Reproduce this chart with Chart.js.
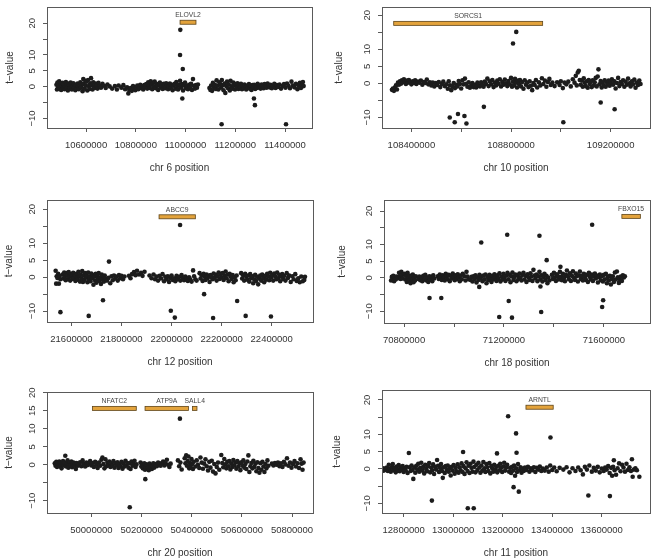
<!DOCTYPE html>
<html>
<head>
<meta charset="utf-8">
<script src="https://cdn.jsdelivr.net/npm/chart.js@4.4.0/dist/chart.umd.min.js"></script>
<style>
body { margin: 0; background: #fff; }
#wrap { position: relative; width: 654px; height: 560px; }
#wrap canvas { position: absolute; }
</style>
</head>
<body>
<div id="wrap">
<canvas id="p1"></canvas>
<canvas id="p2"></canvas>
<canvas id="p3"></canvas>
<canvas id="p4"></canvas>
<canvas id="p5"></canvas>
<canvas id="p6"></canvas>
</div>
<script>
var chr6Points = [[10481,0.6],[10483,-0.9],[10485,1.3],[10488,-0.2],[10490,0.4],[10492,1.7],[10495,-0.7],[10497,0.9],[10500,-1.0],[10503,0.3],[10506,1.2],[10508,-0.3],[10511,0.8],[10514,-0.8],[10516,0.1],[10519,1.5],[10522,-0.5],[10524,0.6],[10527,-1.2],[10530,1.0],[10533,0.2],[10535,-0.4],[10538,1.3],[10541,0.5],[10543,-0.9],[10546,0.2],[10549,1.1],[10552,-0.3],[10554,0.7],[10557,-1.1],[10560,0.4],[10563,-0.6],[10566,1.0],[10568,0.0],[10571,-0.8],[10574,0.6],[10577,1.4],[10580,-0.2],[10583,0.9],[10586,-1.4],[10589,2.4],[10591,0.8],[10594,-0.6],[10597,1.9],[10599,0.3],[10602,1.6],[10605,-1.2],[10608,2.1],[10611,0.2],[10614,-0.7],[10617,1.1],[10620,2.7],[10623,0.5],[10626,-0.9],[10629,1.4],[10632,0.1],[10635,-0.4],[10638,1.0],[10642,0.4],[10646,-0.6],[10650,1.2],[10655,0.2],[10660,-0.3],[10666,0.9],[10672,0.3],[10679,-0.4],[10686,0.7],[10695,0.1],[10705,-0.6],[10716,0.2],[10724,-0.9],[10731,0.4],[10742,-0.3],[10750,0.5],[10757,-0.8],[10765,-0.2],[10770,-2.1],[10774,-1.0],[10779,-0.4],[10784,-1.3],[10789,0.2],[10793,-0.6],[10798,-1.1],[10802,-0.2],[10806,0.4],[10810,-0.8],[10814,-0.3],[10818,0.6],[10822,-0.5],[10826,0.1],[10830,-0.9],[10834,0.5],[10838,-0.2],[10842,0.8],[10846,-0.6],[10850,1.4],[10853,0.2],[10856,-0.4],[10860,1.7],[10863,0.6],[10866,-0.8],[10870,1.2],[10873,0.0],[10876,1.6],[10880,-0.5],[10883,0.9],[10887,0.3],[10890,-1.0],[10894,0.7],[10897,1.3],[10901,-0.3],[10904,0.4],[10908,-0.7],[10912,0.9],[10915,0.1],[10919,-0.5],[10922,1.1],[10926,0.4],[10930,-0.8],[10933,0.2],[10937,1.0],[10941,-0.4],[10945,0.6],[10948,-1.1],[10952,0.3],[10956,0.9],[10960,-0.6],[10963,1.5],[10967,0.2],[10970,-0.9],[10974,0.6],[10978,1.9],[10982,-0.3],[10986,0.8],[10990,-1.2],[10994,0.4],[10998,1.3],[11002,-0.5],[11006,0.2],[11010,-0.8],[11014,0.6],[11018,-0.2],[11022,0.9],[11026,-1.0],[11030,2.4],[11034,0.3],[11038,-0.6],[11042,0.5],[11046,-0.3],[11050,0.7],
  [11096,-0.4],[11100,-1.0],[11103,0.4],[11107,-1.3],[11110,1.2],[11114,-0.2],[11118,0.6],[11122,-0.7],[11125,2.0],[11129,0.3],[11132,-0.9],[11136,1.4],[11139,0.8],[11143,-0.3],[11146,2.1],[11150,0.5],[11153,-1.1],[11157,1.0],[11160,-2.0],[11164,0.2],[11167,1.6],[11171,-0.5],[11174,0.7],[11178,-1.2],[11181,1.9],[11185,0.1],[11188,-0.6],[11192,1.3],[11195,0.4],[11199,-0.9],[11202,0.8],[11206,-0.3],[11209,1.1],[11213,-0.7],[11216,0.5],[11220,-0.2],[11223,0.9],[11227,-0.8],[11230,0.3],[11234,-0.5],[11237,0.7],[11241,-0.1],[11244,-0.9],[11248,0.4],[11251,-0.4],[11255,0.8],[11258,-0.6],[11262,0.2],[11265,-1.0],[11269,0.5],[11272,-0.3],[11276,0.6],[11280,-0.7],[11283,0.1],[11287,-0.4],[11290,0.9],[11294,-0.2],[11298,0.4],[11302,-0.6],[11306,0.7],[11310,0.0],[11314,-0.5],[11318,0.8],[11322,0.2],[11326,-0.3],[11330,1.0],[11334,0.4],[11338,-0.2],[11342,0.6],[11347,-0.5],[11352,0.3],[11357,0.9],[11362,-0.4],[11367,0.5],[11372,-0.1],[11378,0.7],[11384,-0.6],[11390,0.2],[11396,0.8],[11402,-0.3],[11408,1.0],[11414,0.3],[11420,-0.5],[11426,1.6],[11432,0.4],[11438,-0.2],[11444,0.9],[11450,-0.8],[11455,0.3],[11460,1.2],[11464,-0.4],[11468,0.6],[11472,1.5],[11475,0.2],
  [10979,17.9],[10978,10.0],[10989,5.6],[10987,-3.7],[11145,-11.8],[11275,-3.7],[11279,-5.8],[11404,-11.8]];

var chr10Points = [[108322,-1.9],[108326,-1.5],[108330,-2.2],[108334,-1.2],[108338,-0.6],[108342,-1.8],[108346,0.2],[108350,-0.4],[108354,0.6],[108358,-0.1],[108362,0.9],[108366,0.3],[108370,1.2],[108374,0.5],[108378,-0.2],[108382,0.8],[108386,0.2],[108390,1.0],[108395,0.4],[108400,-0.3],[108405,0.6],[108410,0.1],[108415,0.9],[108420,-0.2],[108426,0.5],[108432,0.2],[108438,0.8],[108444,-0.4],[108450,0.4],[108456,0.1],[108462,1.1],[108468,-0.3],[108474,0.3],[108480,-0.6],[108486,0.2],[108492,-0.9],[108498,0.1],[108504,-0.5],[108510,0.4],[108516,-1.1],[108522,-0.2],[108528,0.5],[108534,-0.8],[108540,-0.3],[108546,-1.6],[108550,0.6],[108555,-0.6],[108560,-2.0],[108565,-0.9],[108570,0.1],[108575,-1.4],[108580,-0.4],[108585,-0.9],[108590,0.7],[108595,-0.2],[108600,-1.5],[108605,0.9],[108610,-0.3],[108615,1.4],[108620,-0.1],[108625,-1.0],[108630,0.3],[108635,-1.3],[108640,-0.6],[108645,0.1],[108650,-1.1],[108655,-0.4],[108660,-1.2],[108665,0.2],[108670,-0.6],[108675,-0.9],[108680,0.3],[108685,-0.5],[108690,-1.0],[108695,0.5],[108700,-0.2],[108705,1.4],[108710,-0.8],[108715,0.6],[108720,-0.3],[108725,1.0],[108730,-1.1],[108735,0.2],[108740,-0.6],[108745,0.8],[108750,-0.1],[108755,1.2],[108760,-0.9],[108765,0.4],[108770,-0.4],[108775,1.1],[108780,0.0],[108785,-0.8],[108790,0.7],[108795,-0.3],[108800,1.6],[108804,-1.0],[108808,0.5],[108812,-0.6],[108816,1.3],[108820,0.2],[108824,-1.2],[108828,0.8],[108832,-0.2],[108836,1.0],[108840,-0.9],[108845,0.4],[108850,-1.6],[108855,0.9],[108860,-0.4],[108865,0.2],[108870,-1.1],[108875,0.6],[108880,-0.7],[108885,-2.0],[108890,0.1],[108895,-0.5],[108900,1.0],[108905,-1.2],[108912,0.3],[108918,-0.6],[108924,1.5],[108930,-0.2],[108936,0.8],[108942,-1.0],[108948,0.4],[108954,1.3],[108960,-0.5],[108966,0.2],[108975,-0.8],[108985,0.3],[108995,-0.5],[109000,0.6],[109008,-1.4],[109015,0.2],[109022,-0.3],[109030,0.5],[109040,-0.9],[109048,1.2],[109055,0.2],[109060,2.2],[109064,-0.6],[109068,3.2],[109072,3.7],[109076,1.0],[109080,-0.4],[109084,0.8],[109088,-1.0],[109092,1.5],[109096,0.2],[109100,-0.8],[109104,0.6],[109108,-1.3],[109112,1.0],[109116,-0.2],[109120,0.5],[109124,-1.1],[109128,0.9],[109132,-0.6],[109136,0.3],[109140,1.6],[109144,-0.9],[109148,2.0],[109151,4.1],[109155,-0.3],[109160,0.7],[109164,-1.2],[109168,0.2],[109172,-0.6],[109176,0.9],[109180,-1.0],[109184,0.4],[109188,-0.3],[109192,0.8],[109196,-0.7],[109200,0.3],[109205,1.2],[109210,-0.4],[109215,0.6],[109220,-1.5],[109225,0.1],[109230,1.6],[109235,-0.8],[109240,0.4],[109245,-0.2],[109250,0.9],[109255,-1.0],[109260,0.5],[109265,-0.4],[109270,1.4],[109275,0.0],[109280,-0.9],[109285,0.6],[109290,-0.3],[109295,1.1],[109300,-1.3],[109305,0.2],[109310,-0.5],[109315,0.8],[109320,-0.2],
  [108821,15.1],[108808,11.7],[108554,-10.0],[108574,-11.4],[108587,-9.0],[108613,-9.6],[108621,-11.8],[108691,-6.9],[109010,-11.4],[109160,-5.6],[109216,-7.6]];

var chr12Points = [[21537,1.9],[21539,-1.9],[21541,0.3],[21544,-0.2],[21547,1.0],[21550,-1.9],[21553,0.4],[21556,-0.6],[21565,0.8],[21568,-0.4],[21571,1.4],[21574,0.2],[21577,-0.9],[21580,1.2],[21583,0.5],[21586,-0.6],[21589,1.5],[21592,0.1],[21595,-1.0],[21598,0.9],[21601,0.3],[21604,-0.5],[21607,1.3],[21610,-0.2],[21613,0.7],[21616,-1.1],[21619,1.0],[21622,0.0],[21625,-0.7],[21628,1.6],[21631,0.4],[21634,-1.3],[21637,0.8],[21640,-0.3],[21643,1.8],[21646,-1.4],[21649,0.5],[21652,-0.8],[21655,1.2],[21658,-0.1],[21661,0.6],[21664,-1.5],[21667,1.4],[21670,-0.6],[21673,0.2],[21676,-1.2],[21679,1.1],[21682,-0.3],[21685,0.7],[21688,-2.2],[21691,0.3],[21694,-0.9],[21697,1.0],[21700,-1.6],[21703,0.4],[21706,-0.5],[21709,1.2],[21712,-1.1],[21715,0.0],[21718,-2.0],[21721,0.8],[21724,-0.7],[21727,0.2],[21730,-1.3],[21733,0.5],[21736,-0.4],
  [21742,-1.0],[21748,-0.2],[21755,-1.8],[21760,0.3],[21765,-0.9],[21770,0.5],[21775,-0.4],[21780,0.2],[21785,-1.0],[21790,0.6],[21795,-0.3],[21800,0.4],[21806,-0.6],[21812,0.2],[21830,0.4],[21836,-0.3],[21842,0.9],[21850,1.5],[21856,0.6],[21862,1.9],[21870,0.8],[21878,1.3],[21884,0.4],[21892,1.6],
  [21912,0.5],[21920,-0.3],[21928,0.8],[21934,-0.6],[21940,0.2],[21946,-1.0],[21952,0.4],[21958,-0.4],[21964,0.9],[21970,-1.2],[21975,0.1],[21980,-0.6],[21985,0.3],[21990,-1.4],[21995,-0.2],[22000,0.5],[22005,-0.8],[22010,-0.3],[22015,-1.2],[22020,0.4],[22025,-0.6],[22030,0.1],[22035,-1.0],[22040,0.6],[22045,-0.4],[22050,-0.9],[22055,0.2],[22060,-0.5],[22065,-1.1],[22070,0.0],[22075,-0.7],[22080,-1.3],[22086,2.0],[22090,0.3],[22095,-0.6],[22100,-1.0],
  [22112,1.2],[22116,-0.4],[22120,0.5],[22124,-1.1],[22128,1.0],[22132,0.1],[22136,-0.8],[22140,0.8],[22144,-0.3],[22148,0.4],[22152,-1.4],[22156,0.6],[22160,0.0],[22164,-0.6],[22168,1.1],[22172,-0.2],[22176,0.7],[22180,-1.0],[22184,0.3],[22188,1.4],[22192,-0.5],[22196,0.9],[22200,-0.1],[22204,1.2],[22208,-0.8],[22212,0.4],[22216,1.7],[22220,-0.3],[22224,0.8],[22228,-1.2],[22232,1.0],[22236,0.2],[22240,-0.5],[22244,0.6],[22248,-1.5],[22252,0.0],[22256,-0.9],[22260,0.5],
  [22278,1.2],[22282,-0.4],[22286,0.6],[22290,-1.0],[22294,1.0],[22298,0.2],[22302,-0.7],[22306,0.5],[22310,-1.3],[22314,0.9],[22318,-0.3],[22322,0.3],[22326,-1.8],[22330,-0.6],[22334,0.7],[22338,-1.1],[22342,0.1],[22346,-2.1],[22350,-0.4],[22354,0.5],[22358,-1.0],[22362,0.8],[22366,-0.2],[22370,-1.5],[22374,0.4],[22378,-0.7],[22382,1.0],[22386,0.2],[22390,-0.9],[22394,1.3],[22398,-0.1],[22402,0.6],[22406,-1.0],[22410,1.1],[22414,0.3],[22418,-0.6],[22422,1.4],[22426,-0.3],[22430,0.7],[22434,-1.2],[22438,0.2],[22442,0.9],[22446,-0.5],[22450,0.4],[22455,-1.0],[22460,1.2],[22465,-0.2],[22470,0.5],[22476,-1.4],[22482,0.3],[22488,-0.6],[22494,0.9],[22500,-1.1],[22506,-0.3],[22512,-1.5],[22518,0.2],[22524,-1.2],[22530,-0.8],[22533,0.1],
  [21556,-10.3],[21669,-11.4],[21726,-6.8],[21750,4.6],[21997,-9.9],[22013,-11.9],[22034,15.4],[22130,-5.0],[22166,-12.0],[22262,-7.0],[22296,-11.4],[22397,-11.6]];

var chr18Points = [[70748,-0.8],[70751,0.3],[70754,-0.4],[70757,0.6],[70760,-1.0],[70763,0.1],[70766,-0.5],[70769,0.4],[70772,-0.2],[70780,1.5],[70783,0.4],[70786,-0.3],[70789,1.8],[70792,0.8],[70795,-0.2],[70802,1.2],[70805,-0.5],[70808,0.6],[70811,-1.2],[70814,1.5],[70817,0.0],[70820,-0.9],[70823,0.7],[70826,-1.6],[70829,0.3],[70832,-0.6],[70835,1.0],[70838,-1.3],[70841,0.2],[70844,-0.8],[70847,0.5],
  [70857,-0.3],[70861,0.4],[70865,-0.7],[70869,0.2],[70873,-1.0],[70877,0.6],[70881,-0.4],[70885,0.9],[70889,-0.8],[70893,0.1],[70897,-1.2],[70901,0.5],[70905,-0.5],[70909,0.3],[70913,-1.0],[70917,0.8],[70921,-0.2],
  [70935,0.5],[70939,-0.3],[70943,1.0],[70947,0.2],[70951,-0.6],[70955,0.8],[70959,0.0],[70963,-0.8],[70967,1.2],[70971,0.4],[70975,-0.4],[70979,0.9],[70983,-1.0],[70987,0.6],[70991,-0.2],[70995,1.3],[70999,0.3],[71003,-0.7],[71007,0.8],[71011,-0.3],[71015,1.1],[71019,0.2],[71023,-1.0],[71027,0.7],[71031,-0.4],[71035,1.2],[71042,0.5],[71046,-0.8],[71050,1.8],[71054,0.4],[71058,-0.4],
  [71066,-0.6],[71070,0.3],[71074,-1.1],[71078,0.5],[71082,-0.3],[71086,0.8],[71090,-1.4],[71094,0.1],[71098,-0.6],[71102,0.9],[71106,-0.2],[71110,0.4],[71114,-1.0],[71118,0.7],[71122,-0.4],[71126,1.0],[71130,-1.6],[71134,0.3],[71138,-0.7],[71142,0.9],[71146,-0.1],[71150,-1.2],[71154,0.6],[71158,-0.5],[71162,1.1],[71166,0.2],[71170,-0.9],[71174,0.8],[71178,-0.3],[71182,1.4],[71186,-1.1],[71190,0.4],[71194,-0.5],[71198,1.2],[71202,0.0],[71206,-0.9],[71210,0.7],[71214,1.5],[71218,-0.4],[71222,0.9],[71226,-1.3],[71230,0.5],[71234,1.6],[71238,-0.6],[71242,0.3],[71246,1.0],[71250,-1.0],[71254,0.8],[71258,-0.3],[71262,1.3],[71266,0.1],[71270,-0.8],[71274,0.9],[71278,1.5],[71282,-0.5],[71286,0.6],[71290,-1.2],[71294,1.1],[71298,0.2],[71302,-0.6],[71306,1.4],[71310,0.4],[71314,-0.9],[71318,2.4],[71322,0.7],[71326,-0.2],[71330,1.0],[71334,-1.0],[71338,0.5],[71342,1.8],[71346,-0.4],[71350,0.8],[71354,-1.1],[71358,0.3],[71362,1.2],[71366,-0.6],[71370,0.6],[71374,-1.6],[71378,0.1],[71382,-0.8],
  [71392,0.9],[71396,-0.3],[71400,1.5],[71404,0.2],[71408,-0.9],[71412,1.1],[71416,0.4],[71420,-0.5],[71424,1.8],[71428,0.3],[71432,-0.7],[71436,1.2],[71440,0.0],[71444,-1.0],[71448,0.9],[71452,2.2],[71456,0.4],[71460,-0.4],[71464,1.4],[71468,-0.9],[71472,0.6],[71476,2.0],[71480,0.1],[71484,-0.6],[71488,1.3],[71492,0.5],[71496,-1.1],[71500,0.8],[71504,1.9],[71508,-0.3],[71512,0.6],[71516,-0.8],[71520,1.2],[71524,0.2],[71528,-0.6],[71532,0.9],[71536,-1.2],[71540,1.5],[71544,0.3],[71548,-0.5],[71552,1.0],[71556,-0.9],[71560,0.4],[71564,1.3],[71568,-0.2],[71572,0.7],[71576,-1.4],[71580,0.2],[71584,1.0],[71588,-0.7],[71592,0.5],[71596,-1.1],[71600,0.9],[71604,-0.4],[71608,1.2],[71612,-1.6],[71616,0.3],[71620,-0.8],[71624,0.6],[71628,-2.0],[71632,-0.3],[71636,0.5],[71640,-1.2],[71644,1.6],[71648,-0.5],[71652,1.9],[71656,0.2],[71660,-1.5],[71664,-0.4],[71668,0.4],[71672,-0.9],[71676,0.8],[71680,0.1],[71684,0.5],
  [70902,-6.0],[70949,-6.0],[71101,-2.7],[71109,10.6],[71181,-11.7],[71213,12.9],[71219,-6.9],[71232,-11.9],[71342,12.6],[71346,-2.6],[71349,-10.2],[71371,5.3],[71426,3.3],[71553,15.9],[71593,-8.7],[71597,-6.7]];

var chr20Points = [[49854,0.4],[49857,-0.3],[49860,0.8],[49863,-0.6],[49866,0.2],[49869,-0.1],[49872,0.9],[49875,-0.4],[49878,0.5],[49881,-1.0],[49884,0.3],[49887,1.0],[49890,-0.2],[49893,0.6],[49896,2.5],[49899,-0.5],[49902,0.4],[49905,1.2],[49908,-0.8],[49911,0.1],[49914,0.7],[49917,-0.3],[49920,0.9],[49923,-0.7],[49926,0.2],[49929,0.6],[49932,-0.2],[49935,0.3],[49938,-1.2],[49941,0.5],[49946,-0.3],[49950,0.1],[49955,0.7],[49960,-0.4],[49965,1.2],[49970,0.3],[49975,-0.5],[49980,0.6],[49985,-0.1],[49990,0.4],[49995,1.0],[50000,-0.2],[50005,0.5],[50010,-0.6],[50015,0.8],[50020,0.1],[50025,-0.9],[50030,0.6],[50035,-0.3],[50040,1.4],[50044,2.0],[50048,0.2],[50052,-1.0],[50056,1.5],[50060,-0.4],[50064,0.6],[50068,-0.2],[50072,0.9],[50076,-0.6],[50080,0.3],[50084,-0.3],[50088,1.0],[50092,-0.8],[50096,0.4],[50100,-0.1],[50104,0.7],[50108,-0.9],[50112,0.2],[50116,-0.4],[50120,0.8],[50124,-1.1],[50128,0.3],[50132,-0.5],[50136,1.1],[50140,-0.2],[50144,0.5],[50148,-0.8],[50152,0.4],[50156,-1.2],[50160,0.9],[50164,-0.3],[50168,0.2],[50172,1.1],[50176,-0.6],[50180,0.1],
  [50196,0.6],[50199,-0.5],[50202,0.2],[50205,-1.0],[50208,-0.3],[50211,0.4],[50214,-1.4],[50217,-0.6],[50220,0.1],[50223,-0.9],[50226,-0.2],[50229,-1.5],[50232,0.3],[50235,-0.7],[50238,-0.1],[50241,-1.2],[50244,-0.4],[50247,0.4],[50250,-0.8],[50256,0.2],[50261,-0.4],[50266,0.6],[50271,0.1],[50276,-0.3],[50281,0.5],[50286,0.9],[50291,-0.2],[50296,0.4],[50301,1.4],[50306,0.0],[50311,-0.6],[50316,0.3],[50345,1.2],[50350,-0.4],[50355,0.6],[50360,-1.3],
  [50372,1.8],[50375,0.4],[50378,2.6],[50381,-0.3],[50384,1.0],[50387,2.3],[50390,-1.0],[50393,0.5],[50396,-0.6],[50399,1.6],[50402,0.2],[50405,-1.2],[50408,0.8],[50415,-0.5],[50420,1.2],[50425,0.0],[50430,-0.9],[50435,2.0],[50440,0.6],[50445,-1.1],[50450,0.3],[50455,1.5],[50460,-0.4],[50465,-1.6],[50470,0.8],[50475,-0.8],[50480,1.1],[50485,-1.9],[50490,0.2],[50495,-2.4],[50500,-0.6],[50505,0.6],[50510,-1.4],[50518,2.7],[50522,0.5],[50526,-0.7],[50530,1.6],[50534,0.1],[50538,-1.0],[50542,0.8],[50546,-0.4],[50550,1.0],[50554,-1.3],[50558,0.3],[50562,-0.6],[50566,1.3],[50570,-0.2],[50574,0.6],[50578,-1.1],[50582,1.0],[50586,-0.5],[50590,0.4],[50594,-1.5],[50598,0.7],[50602,-0.3],[50606,1.2],[50610,-0.8],[50614,0.2],[50618,-1.2],[50622,0.9],[50626,2.6],[50630,-2.0],[50634,-0.4],[50638,0.5],[50642,-1.0],[50646,1.1],[50650,-0.6],[50654,0.3],[50658,-1.8],[50662,0.7],[50666,-0.9],[50670,-2.2],[50674,0.4],[50678,-1.4],[50682,0.8],[50686,-0.5],[50690,-2.0],[50694,0.2],[50698,-1.0],[50702,1.2],[50706,-0.3],
  [50720,0.3],[50726,-0.2],[50732,0.5],[50738,0.0],[50744,0.6],[50750,-0.4],[50756,0.4],[50762,-0.6],[50768,0.8],[50774,0.1],[50780,1.8],[50786,-0.3],[50792,0.6],[50798,-0.8],[50804,0.2],[50810,1.0],[50816,-0.5],[50822,0.4],[50828,-0.9],[50834,1.5],[50838,0.3],[50842,-1.4],[50846,0.6],
  [50153,-11.8],[50215,-4.0],[50353,12.8]];

var chr11Points = [[12712,-0.3],[12716,0.2],[12720,-0.5],[12724,0.1],[12728,-0.2],[12732,0.4],[12736,-0.6],[12740,1.2],[12744,0.0],[12748,-0.8],[12752,0.5],[12756,1.4],[12760,-0.4],[12764,0.3],[12768,-1.0],[12772,0.7],[12776,-0.2],[12780,1.1],[12784,-0.7],[12788,0.4],[12792,-0.1],[12796,0.8],[12800,-0.9],[12804,0.2],[12808,-0.4],[12812,0.6],[12816,-1.2],[12824,0.5],[12828,-0.6],[12832,1.0],[12836,-0.3],[12843,0.4],[12847,-1.1],[12851,0.9],[12855,-0.2],[12859,1.5],[12863,-0.8],[12867,0.3],[12871,1.8],[12875,-0.5],[12879,0.6],[12883,-1.3],[12887,1.2],[12891,0.0],[12895,-0.7],[12899,0.8],[12903,1.7],[12907,-1.0],[12911,0.4],[12915,-0.4],[12919,1.3],[12923,-1.5],[12927,0.6],[12931,-0.2],[12935,2.6],[12939,0.9],[12943,-0.9],[12947,0.3],[12951,1.4],[12955,-0.6],[12962,0.5],[12966,-1.2],[12970,0.8],[12974,-0.3],[12978,1.0],[12982,-0.8],[12986,0.2],[12990,-1.9],[12994,0.6],[12998,-0.5],[13002,1.1],[13006,-1.4],[13010,0.3],[13014,-0.7],[13018,1.3],[13022,-1.1],[13026,0.5],[13030,-0.4],[13034,1.6],[13038,-0.9],[13042,0.8],[13046,-1.5],[13050,0.2],[13054,1.9],[13058,-0.6],[13062,0.9],[13066,-1.2],[13070,1.5],[13074,0.3],[13078,-0.8],[13082,2.1],[13086,0.6],[13090,-1.0],[13094,1.2],[13098,-0.3],[13102,1.8],[13106,0.4],[13110,-1.1],[13114,1.0],[13118,-0.5],[13122,2.0],[13126,0.2],[13130,-0.9],[13134,1.4],[13138,0.5],[13142,-0.6],[13146,1.7],[13150,-1.3],[13154,0.8],[13158,0.1],[13162,-0.8],[13166,1.2],[13170,-0.2],[13174,0.6],[13178,-1.0],[13182,0.9],[13186,-0.4],[13190,1.5],[13194,0.3],[13198,-0.9],[13202,0.7],[13206,1.8],[13210,-0.5],[13214,0.4],[13218,1.2],[13226,-0.8],[13230,0.3],[13234,-1.2],[13238,0.6],[13242,-0.5],[13246,1.0],[13250,-2.0],[13254,0.2],[13258,-0.9],[13262,1.4],[13268,-0.4],[13272,0.5],[13276,-1.1],[13280,0.1],[13285,-0.6],[13290,0.4],[13296,-0.3],[13302,0.6],[13308,-0.8],[13314,0.2],[13320,-0.4],[13326,0.5],[13332,-0.9],[13338,0.3],[13344,-0.2],[13350,0.7],[13356,-0.6],[13362,0.1],[13370,-0.5],[13378,0.4],[13386,-0.8],[13392,1.0],[13400,-0.3],[13408,0.4],[13418,-0.7],[13430,0.3],[13445,-0.2],[13458,0.5],[13470,-1.0],[13482,0.2],[13494,-0.6],[13505,0.4],[13515,-0.4],[13524,-1.6],[13532,0.6],[13540,-0.2],[13550,1.0],[13560,-0.8],[13568,0.3],[13576,-0.5],[13584,0.6],[13592,-1.0],[13600,0.1],[13608,-0.6],[13614,0.4],[13620,-0.2],[13626,0.8],[13632,-1.2],[13638,0.3],[13642,-2.0],[13646,0.6],[13652,-0.4],[13658,-1.7],[13664,0.2],[13670,1.6],[13676,-0.7],[13682,1.2],[13688,0.4],[13694,-0.8],[13700,1.5],[13706,-0.3],[13712,0.5],[13718,-0.6],[13730,-0.2],[13736,0.2],[13742,-0.4],
  [12821,4.6],[12839,-2.9],[12914,-9.2],[12958,-2.6],[13040,4.9],[13059,-11.4],[13083,-11.4],[13177,4.5],[13222,15.3],[13244,-5.3],[13254,10.3],[13256,4.7],[13265,-6.6],[13393,9.1],[13546,-7.7],[13633,-7.9],[13649,2.5],[13722,2.8],[13725,-2.3],[13752,-2.3]];

// genes: name, start kb, end kb, t-level of the bar
var chr6Genes = [['ELOVL2', 10978, 11042, 20.3]];
var chr10Genes = [['SORCS1', 108329, 108927, 17.6]];
var chr12Genes = [['ABCC9', 21950, 22095, 17.8]];
var chr18Genes = [['FBXO15', 71672, 71746, 18.4]];
var chr20Genes = [['NFATC2', 50004, 50179, 15.65], ['ATP9A', 50214, 50387, 15.65], ['SALL4', 50403, 50421, 15.65]];
var chr11Genes = [['ARNTL', 13294, 13404, 17.9]];

// tick values
var chr6Ticks = [10600000, 10800000, 11000000, 11200000, 11400000];
var chr10Ticks = [108400000, 108600000, 108800000, 109000000, 109200000];
var chr10Labels = [108400000, 108800000, 109200000];
var chr12Ticks = [21600000, 21800000, 22000000, 22200000, 22400000];
var chr18Ticks = [70800000, 71000000, 71200000, 71400000, 71600000];
var chr18Labels = [70800000, 71200000, 71600000];
var chr20Ticks = [50000000, 50200000, 50400000, 50600000, 50800000];
var chr11Ticks = [12800000, 13000000, 13200000, 13400000, 13600000];
var tTicks = [-10, -5, 0, 5, 10, 15, 20];
var tLabels = [20, 10, 5, 0, -10];
var tLabelsChr20 = [20, 15, 10, 5, 0, -10];

var FONT = '"Liberation Sans", Arial, Helvetica, sans-serif';
var AXIS_COL = '#5a5a5a';
var TEXT_COL = '#333';
var YW = 30, XH = 30;

var panelPlugin = {
    id: 'panel',
    afterDraw: function(chart) {
        var p = chart.options.plugins.panel;
        var a = chart.chartArea, ctx = chart.ctx;
        var xs = chart.scales.x, ys = chart.scales.y;
        ctx.save();
        // box
        ctx.strokeStyle = AXIS_COL;
        ctx.lineWidth = 1;
        var l = Math.round(a.left), t = Math.round(a.top), r = Math.round(a.right), b = Math.round(a.bottom);
        ctx.strokeRect(l + 0.5, t + 0.5, r - l, b - t);
        // genes
        p.genes.forEach(function(g) {
            var x1 = xs.getPixelForValue(g[1] * 1000), x2 = xs.getPixelForValue(g[2] * 1000);
            var yc = ys.getPixelForValue(g[3]);
            ctx.fillStyle = '#E3A33C';
            ctx.fillRect(x1, yc - 2, x2 - x1, 4);
            ctx.strokeStyle = '#5e4418';
            ctx.lineWidth = 0.8;
            ctx.strokeRect(x1, yc - 2, x2 - x1, 4);
            ctx.fillStyle = '#444';
            ctx.font = '6.8px ' + FONT;
            ctx.textAlign = 'center';
            ctx.textBaseline = 'alphabetic';
            ctx.fillText(g[0], (x1 + x2) / 2, yc - 5);
        });
        // y tick labels, rotated like R
        ctx.fillStyle = TEXT_COL;
        ctx.font = '9.5px ' + FONT;
        ctx.textAlign = 'center';
        ctx.textBaseline = 'middle';
        p.yLabels.forEach(function(v) {
            ctx.save();
            ctx.translate(a.left - 15, ys.getPixelForValue(v));
            ctx.rotate(-Math.PI / 2);
            ctx.fillText(String(v).replace('-', '\u2212'), 0, 0);
            ctx.restore();
        });
        // axis titles
        ctx.font = '10px ' + FONT;
        ctx.fillText(p.title, (a.left + a.right) / 2, a.bottom + 40);
        ctx.save();
        ctx.translate(a.left - p.yTitleOff, (a.top + a.bottom) / 2);
        ctx.rotate(-Math.PI / 2);
        ctx.fillText('t\u2212value', 0, 0);
        ctx.restore();
        ctx.restore();
    }
};

function makePanel(id, points, genes, cv, box, xr, yr, xTicks, xLabels, yLabels, title, yTitleOff) {
    var el = document.getElementById(id);
    el.width = cv[2];
    el.height = cv[3];
    el.style.left = cv[0] + 'px';
    el.style.top = cv[1] + 'px';
    new Chart(el, {
        type: 'scatter',
        data: {
            datasets: [{
                data: points.map(function(p) { return { x: p[0] * 1000, y: p[1] }; }),
                backgroundColor: '#1c1c1c',
                borderWidth: 0,
                pointRadius: 2.3,
                pointHoverRadius: 2.3
            }]
        },
        options: {
            responsive: false,
            animation: false,
            devicePixelRatio: 1,
            layout: {
                padding: {
                    left: box[0] - cv[0] - YW,
                    right: cv[0] + cv[2] - box[1],
                    top: box[2] - cv[1],
                    bottom: cv[1] + cv[3] - box[3] - XH
                }
            },
            plugins: {
                legend: { display: false },
                tooltip: { enabled: false },
                panel: { genes: genes, yLabels: yLabels, title: title, yTitleOff: yTitleOff }
            },
            scales: {
                x: {
                    type: 'linear',
                    min: xr[0] * 1000,
                    max: xr[1] * 1000,
                    afterBuildTicks: function(s) { s.ticks = xTicks.map(function(v) { return { value: v }; }); },
                    afterFit: function(s) { s.height = XH; s.paddingLeft = 0; s.paddingRight = 0; },
                    border: { display: false },
                    grid: { drawOnChartArea: false, drawTicks: true, tickLength: 4, color: AXIS_COL },
                    ticks: {
                        autoSkip: false,
                        maxRotation: 0,
                        padding: 8,
                        color: TEXT_COL,
                        font: { family: FONT, size: 9.5 },
                        callback: function(v) { return xLabels.indexOf(v) >= 0 ? String(v) : ''; }
                    }
                },
                y: {
                    type: 'linear',
                    min: yr[0],
                    max: yr[1],
                    afterBuildTicks: function(s) { s.ticks = tTicks.map(function(v) { return { value: v }; }); },
                    afterFit: function(s) { s.width = YW; s.paddingTop = 0; s.paddingBottom = 0; },
                    border: { display: false },
                    grid: { drawOnChartArea: false, drawTicks: true, tickLength: 4, color: AXIS_COL },
                    ticks: { display: false }
                }
            }
        },
        plugins: [panelPlugin]
    });
}

makePanel('p1', chr6Points, chr6Genes, [0, 0, 327, 187], [47, 312, 7, 128], [10443, 11508.5], [-13.0, 25.1], chr6Ticks, chr6Ticks, tLabels, 'chr 6 position', 37);
makePanel('p2', chr10Points, chr10Genes, [327, 0, 327, 187], [382, 650, 7, 128], [108282, 109358], [-13.1, 22.4], chr10Ticks, chr10Labels, tLabels, 'chr 10 position', 43);
makePanel('p3', chr12Points, chr12Genes, [0, 187, 327, 190], [47, 313, 200, 322], [21502.4, 22565], [-13.2, 22.75], chr12Ticks, chr12Ticks, tLabels, 'chr 12 position', 38);
makePanel('p4', chr18Points, chr18Genes, [327, 187, 327, 190], [384, 650, 200, 323], [70719.7, 71784.6], [-13.5, 23.3], chr18Ticks, chr18Labels, tLabels, 'chr 18 position', 42);
makePanel('p5', chr20Points, chr20Genes, [0, 377, 327, 183], [47, 313, 392, 513], [49823, 50883.7], [-13.4, 20.2], chr20Ticks, chr20Ticks, tLabelsChr20, 'chr 20 position', 38);
makePanel('p6', chr11Points, chr11Genes, [327, 377, 327, 183], [382, 650, 390, 513], [12712.5, 13795], [-12.8, 22.9], chr11Ticks, chr11Ticks, tLabels, 'chr 11 position', 45);
</script>
</body>
</html>
